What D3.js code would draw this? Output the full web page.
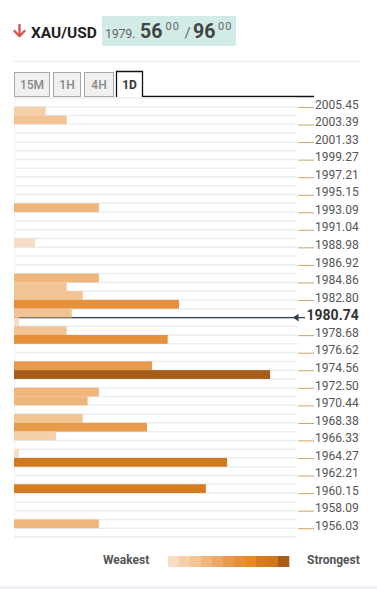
<!DOCTYPE html>
<html>
<head>
<meta charset="utf-8">
<script src="https://cdn.jsdelivr.net/npm/d3@7"></script>
<style>
  html, body { margin: 0; padding: 0; background: #fff; }
  svg { display: block; font-family: Roboto, "Noto Sans", sans-serif; }
</style>
</head>
<body>
<svg id="chart" width="377" height="589"></svg>
<script>
// ---------- data ----------
const symbol = "XAU/USD";
const quoteParts = ["1979.", "56", "00", "/", "96", "00"];
const tabs = ["15M", "1H", "4H", "1D"];
const activeTab = "1D";
const priceTicks = [2005.45, 2003.39, 2001.33, 1999.27, 1997.21, 1995.15, 1993.09, 1991.04,
  1988.98, 1986.92, 1984.86, 1982.80, 1978.68, 1976.62, 1974.56, 1972.50, 1970.44,
  1968.38, 1966.33, 1964.27, 1962.21, 1960.15, 1958.09, 1956.03];
const currentPrice = 1980.74;
const priceMin = 1955.00, priceMax = 2006.50, rowStep = 1.03;
// confluence levels (row centre price) and their strength (0-100)
const levels = [2004.96, 2003.93, 1993.63, 1989.51, 1985.39, 1984.36, 1983.33, 1982.30,
  1981.27, 1980.24, 1979.21, 1978.18, 1975.09, 1974.06, 1972.00, 1970.97, 1968.91,
  1967.88, 1966.85, 1964.79, 1963.76, 1960.67, 1956.55];
const strengths = [11.2, 18.6, 30.0, 7.4, 30.0, 18.6, 24.3, 58.3,
  20.4, 1.8, 18.6, 54.3, 48.8, 90.5, 30.0, 26.0, 24.3,
  47.0, 14.8, 1.8, 75.3, 67.8, 30.0];
const palette = ["#f8dcc4", "#f5cfa8", "#f2c393", "#efb57a", "#eca865", "#e99b4d",
  "#e6903a", "#e88a22", "#d67c1f", "#d0781d", "#a65d1a"];
const legendLabels = ["Weakest", "Strongest"];

// ---------- layout ----------
const svg = d3.select("#chart");
const plotLeft = 14, plotRight = 297, plotTop = 98, plotBottom = 537;

const y = d3.scaleLinear().domain([priceMin, priceMax]).range([plotBottom, plotTop]);
const x = d3.scaleLinear().domain([0, 100]).range([plotLeft, plotRight]);
const color = d3.scaleQuantize().domain([0, 92]).range(palette);

// ---------- header ----------
const hdr = svg.append("g");
hdr.append("path")
  .attr("d", "M19.5,25 V36 M14.5,31 L19.5,36.3 L24.5,31")
  .attr("fill", "none").attr("stroke", "#d9534f").attr("stroke-width", 2.4)
  .attr("stroke-linecap", "round").attr("stroke-linejoin", "round");
hdr.append("text").attr("x", 31).attr("y", 37.5)
  .attr("font-size", 15.5).attr("font-weight", 700).attr("fill", "#222").text(symbol);
hdr.append("rect").attr("x", 102).attr("y", 16).attr("width", 134).attr("height", 30)
  .attr("fill", "#d3ebe7");
const q = hdr.append("text").attr("y", 37.5).attr("fill", "#555");
q.append("tspan").attr("x", 105).attr("font-size", 12.5).attr("fill", "#666").attr("letter-spacing", -0.3).text(quoteParts[0]);
q.append("tspan").attr("x", 140).attr("font-size", 19.5).attr("font-weight", 700).attr("fill", "#444").text(quoteParts[1]);
q.append("tspan").attr("x", 165.5).attr("y", 29.5).attr("font-size", 11).attr("fill", "#666").attr("letter-spacing", 1).text(quoteParts[2]);
q.append("tspan").attr("x", 184.5).attr("y", 38).attr("font-size", 15).attr("fill", "#666").text(quoteParts[3]);
q.append("tspan").attr("x", 193).attr("y", 37.5).attr("font-size", 19.5).attr("font-weight", 700).attr("fill", "#444").text(quoteParts[4]);
q.append("tspan").attr("x", 218).attr("y", 29.5).attr("font-size", 11).attr("fill", "#666").attr("letter-spacing", 1).text(quoteParts[5]);

// separator
svg.append("line").attr("x1", 13).attr("x2", 360).attr("y1", 61.5).attr("y2", 61.5)
  .attr("stroke", "#ececec").attr("stroke-width", 1);

// ---------- tabs ----------
const tabX = [14, 53, 84, 116], tabW = [36, 28, 30, 27];
const tg = svg.append("g");
tabs.forEach((t, i) => {
  const active = t === activeTab;
  if (active) {
    tg.append("path")
      .attr("d", `M${tabX[i] + 0.5},97 V71.5 H${tabX[i] + tabW[i] - 0.5} V96.5 H314`)
      .attr("fill", "#fff").attr("stroke", "#111").attr("stroke-width", 1.3);
  } else {
    tg.append("rect").attr("x", tabX[i] + 0.5).attr("y", 72.5).attr("width", tabW[i] - 1).attr("height", 24)
      .attr("fill", "#f0f0f0").attr("stroke", "#a8a8a8").attr("stroke-width", 1);
  }
  tg.append("text").attr("x", tabX[i] + tabW[i] / 2).attr("y", 88.5).attr("text-anchor", "middle")
    .attr("font-size", 12).attr("font-weight", active ? 700 : 500)
    .attr("fill", active ? "#333" : "#888").text(t);
});

// ---------- grid rows ----------
const rowBounds = d3.range(0, Math.round((priceMax - priceMin) / rowStep) + 1).map(i => priceMin + i * rowStep);
svg.append("g").selectAll("line").data(rowBounds).join("line")
  .attr("x1", plotLeft).attr("x2", plotRight)
  .attr("y1", d => y(d)).attr("y2", d => y(d))
  .attr("stroke", "#eaedf1").attr("stroke-width", 1.5);
svg.append("line").attr("x1", plotLeft + 0.5).attr("x2", plotLeft + 0.5).attr("y1", plotTop).attr("y2", plotBottom)
  .attr("stroke", "#f1f1f1");

// ---------- current price line ----------
const cy = y(currentPrice);
svg.append("line").attr("x1", plotLeft).attr("x2", 305).attr("y1", cy).attr("y2", cy)
  .attr("stroke", "#2c3e50").attr("stroke-width", 1.1);

// ---------- bars ----------
const bars = levels.map((l, i) => ({ level: l, strength: strengths[i] }));
svg.append("g").selectAll("rect").data(bars).join("rect")
  .attr("x", x(0))
  .attr("y", d => y(d.level + rowStep / 2))
  .attr("width", d => x(d.strength) - x(0))
  .attr("height", d => y(d.level - rowStep / 2) - y(d.level + rowStep / 2))
  .attr("fill", d => color(d.strength));

// ---------- axis ----------
const axis = d3.axisRight(y).tickValues(priceTicks).tickFormat(d3.format(".2f"))
  .tickSize(16).tickPadding(1);
const ag = svg.append("g").attr("transform", `translate(${plotRight + 1},0)`).call(axis);
ag.select(".domain").remove();
ag.selectAll(".tick line").attr("stroke", "#c9a468").attr("stroke-width", 1);
ag.selectAll(".tick text").attr("font-size", 12).attr("fill", "#555")
  .attr("font-family", "Roboto, sans-serif").attr("dy", "0.1em");

// current price marker & label
svg.append("path").attr("d", `M293,${cy} L298.5,${cy - 3.8} L298.5,${cy + 3.8} Z`).attr("fill", "#2c3e50");
svg.append("text").attr("x", 306.5).attr("y", cy).attr("dy", "0.17em")
  .attr("font-size", 14).attr("font-weight", 700).attr("fill", "#333")
  .text(d3.format(".2f")(currentPrice));

// ---------- legend ----------
const lg = svg.append("g");
lg.append("text").attr("x", 103).attr("y", 564).attr("font-size", 12).attr("font-weight", 700)
  .attr("fill", "#555").text(legendLabels[0]);
lg.append("text").attr("x", 307).attr("y", 564).attr("font-size", 12).attr("font-weight", 700)
  .attr("fill", "#555").text(legendLabels[1]);
const lx = d3.scaleBand().domain(d3.range(palette.length)).range([168, 289]);
lg.selectAll("rect").data(palette).join("rect")
  .attr("x", (d, i) => lx(i)).attr("y", 556).attr("width", lx.bandwidth() + 0.3).attr("height", 11)
  .attr("fill", d => d);

// bottom band
svg.append("rect").attr("x", 0).attr("y", 586).attr("width", 377).attr("height", 3).attr("fill", "#f1f1f6");
</script>
</body>
</html>
